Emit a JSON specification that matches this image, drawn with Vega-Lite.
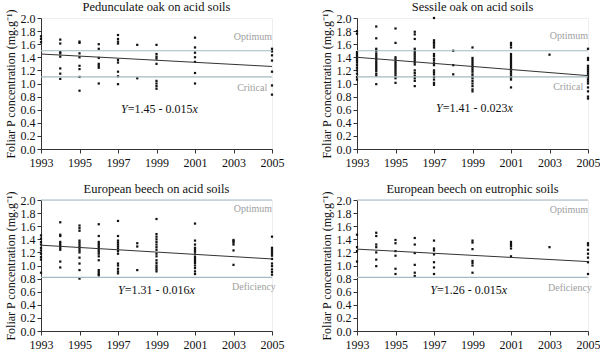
{
  "$schema": "https://vega.github.io/schema/vega-lite/v6.json",
  "padding": {"left": 3, "top": 0, "right": 2, "bottom": 2},
  "background": "white",
  "config": {
    "font": "Liberation Serif",
    "view": {"stroke": "#eeeeee"},
    "axis": {"labelFont": "Liberation Serif", "titleFont": "Liberation Serif", "labelFontSize": 12, "titleFontSize": 12,
             "titleFontWeight": "normal", "grid": false, "tickSize": 4, "labelOverlap": false, "labelFlush": false,
             "labelColor": "#111", "titleColor": "#111", "domainColor": "#333", "tickColor": "#333"},
    "axisX": {"labelPadding": 4},
    "axisY": {"labelPadding": 2, "titlePadding": 3}
  },
  "data": {"values": [
    {"panel": "Pedunculate oak on acid soils", "type": "pt", "year": 1993, "p": 1.72},
    {"panel": "Pedunculate oak on acid soils", "type": "pt", "year": 1993, "p": 1.68},
    {"panel": "Pedunculate oak on acid soils", "type": "pt", "year": 1993, "p": 1.63},
    {"panel": "Pedunculate oak on acid soils", "type": "pt", "year": 1994, "p": 1.67},
    {"panel": "Pedunculate oak on acid soils", "type": "pt", "year": 1994, "p": 1.61},
    {"panel": "Pedunculate oak on acid soils", "type": "pt", "year": 1994, "p": 1.48},
    {"panel": "Pedunculate oak on acid soils", "type": "pt", "year": 1994, "p": 1.46},
    {"panel": "Pedunculate oak on acid soils", "type": "pt", "year": 1994, "p": 1.41},
    {"panel": "Pedunculate oak on acid soils", "type": "pt", "year": 1994, "p": 1.23},
    {"panel": "Pedunculate oak on acid soils", "type": "pt", "year": 1994, "p": 1.15},
    {"panel": "Pedunculate oak on acid soils", "type": "pt", "year": 1994, "p": 1.07},
    {"panel": "Pedunculate oak on acid soils", "type": "pt", "year": 1995, "p": 1.64},
    {"panel": "Pedunculate oak on acid soils", "type": "pt", "year": 1995, "p": 1.62},
    {"panel": "Pedunculate oak on acid soils", "type": "pt", "year": 1995, "p": 1.46},
    {"panel": "Pedunculate oak on acid soils", "type": "pt", "year": 1995, "p": 1.40},
    {"panel": "Pedunculate oak on acid soils", "type": "pt", "year": 1995, "p": 1.27},
    {"panel": "Pedunculate oak on acid soils", "type": "pt", "year": 1995, "p": 1.22},
    {"panel": "Pedunculate oak on acid soils", "type": "pt", "year": 1995, "p": 1.10},
    {"panel": "Pedunculate oak on acid soils", "type": "pt", "year": 1995, "p": 0.89},
    {"panel": "Pedunculate oak on acid soils", "type": "pt", "year": 1996, "p": 1.60},
    {"panel": "Pedunculate oak on acid soils", "type": "pt", "year": 1996, "p": 1.53},
    {"panel": "Pedunculate oak on acid soils", "type": "pt", "year": 1996, "p": 1.39},
    {"panel": "Pedunculate oak on acid soils", "type": "pt", "year": 1996, "p": 1.30},
    {"panel": "Pedunculate oak on acid soils", "type": "pt", "year": 1996, "p": 1.27},
    {"panel": "Pedunculate oak on acid soils", "type": "pt", "year": 1996, "p": 1.24},
    {"panel": "Pedunculate oak on acid soils", "type": "pt", "year": 1996, "p": 1.00},
    {"panel": "Pedunculate oak on acid soils", "type": "pt", "year": 1997, "p": 1.74},
    {"panel": "Pedunculate oak on acid soils", "type": "pt", "year": 1997, "p": 1.68},
    {"panel": "Pedunculate oak on acid soils", "type": "pt", "year": 1997, "p": 1.64},
    {"panel": "Pedunculate oak on acid soils", "type": "pt", "year": 1997, "p": 1.61},
    {"panel": "Pedunculate oak on acid soils", "type": "pt", "year": 1997, "p": 1.36},
    {"panel": "Pedunculate oak on acid soils", "type": "pt", "year": 1997, "p": 1.32},
    {"panel": "Pedunculate oak on acid soils", "type": "pt", "year": 1997, "p": 1.18},
    {"panel": "Pedunculate oak on acid soils", "type": "pt", "year": 1997, "p": 1.11},
    {"panel": "Pedunculate oak on acid soils", "type": "pt", "year": 1997, "p": 0.99},
    {"panel": "Pedunculate oak on acid soils", "type": "pt", "year": 1998, "p": 1.59},
    {"panel": "Pedunculate oak on acid soils", "type": "pt", "year": 1998, "p": 1.08},
    {"panel": "Pedunculate oak on acid soils", "type": "pt", "year": 1999, "p": 1.59},
    {"panel": "Pedunculate oak on acid soils", "type": "pt", "year": 1999, "p": 1.45},
    {"panel": "Pedunculate oak on acid soils", "type": "pt", "year": 1999, "p": 1.41},
    {"panel": "Pedunculate oak on acid soils", "type": "pt", "year": 1999, "p": 1.38},
    {"panel": "Pedunculate oak on acid soils", "type": "pt", "year": 1999, "p": 1.30},
    {"panel": "Pedunculate oak on acid soils", "type": "pt", "year": 1999, "p": 1.04},
    {"panel": "Pedunculate oak on acid soils", "type": "pt", "year": 1999, "p": 1.00},
    {"panel": "Pedunculate oak on acid soils", "type": "pt", "year": 1999, "p": 0.96},
    {"panel": "Pedunculate oak on acid soils", "type": "pt", "year": 1999, "p": 0.92},
    {"panel": "Pedunculate oak on acid soils", "type": "pt", "year": 2001, "p": 1.70},
    {"panel": "Pedunculate oak on acid soils", "type": "pt", "year": 2001, "p": 1.55},
    {"panel": "Pedunculate oak on acid soils", "type": "pt", "year": 2001, "p": 1.47},
    {"panel": "Pedunculate oak on acid soils", "type": "pt", "year": 2001, "p": 1.40},
    {"panel": "Pedunculate oak on acid soils", "type": "pt", "year": 2001, "p": 1.33},
    {"panel": "Pedunculate oak on acid soils", "type": "pt", "year": 2001, "p": 1.16},
    {"panel": "Pedunculate oak on acid soils", "type": "pt", "year": 2001, "p": 1.00},
    {"panel": "Pedunculate oak on acid soils", "type": "pt", "year": 2005, "p": 1.53},
    {"panel": "Pedunculate oak on acid soils", "type": "pt", "year": 2005, "p": 1.49},
    {"panel": "Pedunculate oak on acid soils", "type": "pt", "year": 2005, "p": 1.43},
    {"panel": "Pedunculate oak on acid soils", "type": "pt", "year": 2005, "p": 1.35},
    {"panel": "Pedunculate oak on acid soils", "type": "pt", "year": 2005, "p": 1.18},
    {"panel": "Pedunculate oak on acid soils", "type": "pt", "year": 2005, "p": 0.97},
    {"panel": "Pedunculate oak on acid soils", "type": "pt", "year": 2005, "p": 0.83},

    {"panel": "Sessile oak on acid soils", "type": "pt", "year": 1993, "p": 1.80},
    {"panel": "Sessile oak on acid soils", "type": "pt", "year": 1993, "p": 1.76},
    {"panel": "Sessile oak on acid soils", "type": "pt", "year": 1993, "p": 1.48},
    {"panel": "Sessile oak on acid soils", "type": "pt", "year": 1993, "p": 1.45},
    {"panel": "Sessile oak on acid soils", "type": "pt", "year": 1993, "p": 1.42},
    {"panel": "Sessile oak on acid soils", "type": "pt", "year": 1993, "p": 1.38},
    {"panel": "Sessile oak on acid soils", "type": "pt", "year": 1993, "p": 1.35},
    {"panel": "Sessile oak on acid soils", "type": "pt", "year": 1993, "p": 1.32},
    {"panel": "Sessile oak on acid soils", "type": "pt", "year": 1993, "p": 1.28},
    {"panel": "Sessile oak on acid soils", "type": "pt", "year": 1993, "p": 1.24},
    {"panel": "Sessile oak on acid soils", "type": "pt", "year": 1993, "p": 1.20},
    {"panel": "Sessile oak on acid soils", "type": "pt", "year": 1993, "p": 1.15},
    {"panel": "Sessile oak on acid soils", "type": "pt", "year": 1993, "p": 1.10},
    {"panel": "Sessile oak on acid soils", "type": "pt", "year": 1993, "p": 1.06},
    {"panel": "Sessile oak on acid soils", "type": "pt", "year": 1994, "p": 1.87},
    {"panel": "Sessile oak on acid soils", "type": "pt", "year": 1994, "p": 1.69},
    {"panel": "Sessile oak on acid soils", "type": "pt", "year": 1994, "p": 1.53},
    {"panel": "Sessile oak on acid soils", "type": "pt", "year": 1994, "p": 1.50},
    {"panel": "Sessile oak on acid soils", "type": "pt", "year": 1994, "p": 1.46},
    {"panel": "Sessile oak on acid soils", "type": "pt", "year": 1994, "p": 1.43},
    {"panel": "Sessile oak on acid soils", "type": "pt", "year": 1994, "p": 1.40},
    {"panel": "Sessile oak on acid soils", "type": "pt", "year": 1994, "p": 1.37},
    {"panel": "Sessile oak on acid soils", "type": "pt", "year": 1994, "p": 1.34},
    {"panel": "Sessile oak on acid soils", "type": "pt", "year": 1994, "p": 1.31},
    {"panel": "Sessile oak on acid soils", "type": "pt", "year": 1994, "p": 1.28},
    {"panel": "Sessile oak on acid soils", "type": "pt", "year": 1994, "p": 1.25},
    {"panel": "Sessile oak on acid soils", "type": "pt", "year": 1994, "p": 1.22},
    {"panel": "Sessile oak on acid soils", "type": "pt", "year": 1994, "p": 1.19},
    {"panel": "Sessile oak on acid soils", "type": "pt", "year": 1994, "p": 1.15},
    {"panel": "Sessile oak on acid soils", "type": "pt", "year": 1994, "p": 1.12},
    {"panel": "Sessile oak on acid soils", "type": "pt", "year": 1994, "p": 0.99},
    {"panel": "Sessile oak on acid soils", "type": "pt", "year": 1995, "p": 1.84},
    {"panel": "Sessile oak on acid soils", "type": "pt", "year": 1995, "p": 1.62},
    {"panel": "Sessile oak on acid soils", "type": "pt", "year": 1995, "p": 1.40},
    {"panel": "Sessile oak on acid soils", "type": "pt", "year": 1995, "p": 1.37},
    {"panel": "Sessile oak on acid soils", "type": "pt", "year": 1995, "p": 1.33},
    {"panel": "Sessile oak on acid soils", "type": "pt", "year": 1995, "p": 1.30},
    {"panel": "Sessile oak on acid soils", "type": "pt", "year": 1995, "p": 1.27},
    {"panel": "Sessile oak on acid soils", "type": "pt", "year": 1995, "p": 1.24},
    {"panel": "Sessile oak on acid soils", "type": "pt", "year": 1995, "p": 1.21},
    {"panel": "Sessile oak on acid soils", "type": "pt", "year": 1995, "p": 1.18},
    {"panel": "Sessile oak on acid soils", "type": "pt", "year": 1995, "p": 1.15},
    {"panel": "Sessile oak on acid soils", "type": "pt", "year": 1995, "p": 1.12},
    {"panel": "Sessile oak on acid soils", "type": "pt", "year": 1995, "p": 1.08},
    {"panel": "Sessile oak on acid soils", "type": "pt", "year": 1995, "p": 1.01},
    {"panel": "Sessile oak on acid soils", "type": "pt", "year": 1996, "p": 1.79},
    {"panel": "Sessile oak on acid soils", "type": "pt", "year": 1996, "p": 1.75},
    {"panel": "Sessile oak on acid soils", "type": "pt", "year": 1996, "p": 1.68},
    {"panel": "Sessile oak on acid soils", "type": "pt", "year": 1996, "p": 1.53},
    {"panel": "Sessile oak on acid soils", "type": "pt", "year": 1996, "p": 1.50},
    {"panel": "Sessile oak on acid soils", "type": "pt", "year": 1996, "p": 1.47},
    {"panel": "Sessile oak on acid soils", "type": "pt", "year": 1996, "p": 1.44},
    {"panel": "Sessile oak on acid soils", "type": "pt", "year": 1996, "p": 1.41},
    {"panel": "Sessile oak on acid soils", "type": "pt", "year": 1996, "p": 1.38},
    {"panel": "Sessile oak on acid soils", "type": "pt", "year": 1996, "p": 1.35},
    {"panel": "Sessile oak on acid soils", "type": "pt", "year": 1996, "p": 1.32},
    {"panel": "Sessile oak on acid soils", "type": "pt", "year": 1996, "p": 1.29},
    {"panel": "Sessile oak on acid soils", "type": "pt", "year": 1996, "p": 1.20},
    {"panel": "Sessile oak on acid soils", "type": "pt", "year": 1996, "p": 1.16},
    {"panel": "Sessile oak on acid soils", "type": "pt", "year": 1996, "p": 1.12},
    {"panel": "Sessile oak on acid soils", "type": "pt", "year": 1996, "p": 1.08},
    {"panel": "Sessile oak on acid soils", "type": "pt", "year": 1996, "p": 1.04},
    {"panel": "Sessile oak on acid soils", "type": "pt", "year": 1996, "p": 0.96},
    {"panel": "Sessile oak on acid soils", "type": "pt", "year": 1997, "p": 2.00},
    {"panel": "Sessile oak on acid soils", "type": "pt", "year": 1997, "p": 1.66},
    {"panel": "Sessile oak on acid soils", "type": "pt", "year": 1997, "p": 1.63},
    {"panel": "Sessile oak on acid soils", "type": "pt", "year": 1997, "p": 1.61},
    {"panel": "Sessile oak on acid soils", "type": "pt", "year": 1997, "p": 1.58},
    {"panel": "Sessile oak on acid soils", "type": "pt", "year": 1997, "p": 1.55},
    {"panel": "Sessile oak on acid soils", "type": "pt", "year": 1997, "p": 1.45},
    {"panel": "Sessile oak on acid soils", "type": "pt", "year": 1997, "p": 1.42},
    {"panel": "Sessile oak on acid soils", "type": "pt", "year": 1997, "p": 1.38},
    {"panel": "Sessile oak on acid soils", "type": "pt", "year": 1997, "p": 1.35},
    {"panel": "Sessile oak on acid soils", "type": "pt", "year": 1997, "p": 1.31},
    {"panel": "Sessile oak on acid soils", "type": "pt", "year": 1997, "p": 1.28},
    {"panel": "Sessile oak on acid soils", "type": "pt", "year": 1997, "p": 1.20},
    {"panel": "Sessile oak on acid soils", "type": "pt", "year": 1997, "p": 1.17},
    {"panel": "Sessile oak on acid soils", "type": "pt", "year": 1997, "p": 1.14},
    {"panel": "Sessile oak on acid soils", "type": "pt", "year": 1997, "p": 1.10},
    {"panel": "Sessile oak on acid soils", "type": "pt", "year": 1997, "p": 1.06},
    {"panel": "Sessile oak on acid soils", "type": "pt", "year": 1997, "p": 1.01},
    {"panel": "Sessile oak on acid soils", "type": "pt", "year": 1997, "p": 0.98},
    {"panel": "Sessile oak on acid soils", "type": "pt", "year": 1998, "p": 1.50},
    {"panel": "Sessile oak on acid soils", "type": "pt", "year": 1998, "p": 1.28},
    {"panel": "Sessile oak on acid soils", "type": "pt", "year": 1998, "p": 1.14},
    {"panel": "Sessile oak on acid soils", "type": "pt", "year": 1999, "p": 1.55},
    {"panel": "Sessile oak on acid soils", "type": "pt", "year": 1999, "p": 1.39},
    {"panel": "Sessile oak on acid soils", "type": "pt", "year": 1999, "p": 1.36},
    {"panel": "Sessile oak on acid soils", "type": "pt", "year": 1999, "p": 1.33},
    {"panel": "Sessile oak on acid soils", "type": "pt", "year": 1999, "p": 1.30},
    {"panel": "Sessile oak on acid soils", "type": "pt", "year": 1999, "p": 1.27},
    {"panel": "Sessile oak on acid soils", "type": "pt", "year": 1999, "p": 1.24},
    {"panel": "Sessile oak on acid soils", "type": "pt", "year": 1999, "p": 1.21},
    {"panel": "Sessile oak on acid soils", "type": "pt", "year": 1999, "p": 1.18},
    {"panel": "Sessile oak on acid soils", "type": "pt", "year": 1999, "p": 1.14},
    {"panel": "Sessile oak on acid soils", "type": "pt", "year": 1999, "p": 1.11},
    {"panel": "Sessile oak on acid soils", "type": "pt", "year": 1999, "p": 1.08},
    {"panel": "Sessile oak on acid soils", "type": "pt", "year": 1999, "p": 1.04},
    {"panel": "Sessile oak on acid soils", "type": "pt", "year": 1999, "p": 1.00},
    {"panel": "Sessile oak on acid soils", "type": "pt", "year": 1999, "p": 0.96},
    {"panel": "Sessile oak on acid soils", "type": "pt", "year": 1999, "p": 0.91},
    {"panel": "Sessile oak on acid soils", "type": "pt", "year": 1999, "p": 0.88},
    {"panel": "Sessile oak on acid soils", "type": "pt", "year": 2001, "p": 1.62},
    {"panel": "Sessile oak on acid soils", "type": "pt", "year": 2001, "p": 1.59},
    {"panel": "Sessile oak on acid soils", "type": "pt", "year": 2001, "p": 1.55},
    {"panel": "Sessile oak on acid soils", "type": "pt", "year": 2001, "p": 1.45},
    {"panel": "Sessile oak on acid soils", "type": "pt", "year": 2001, "p": 1.42},
    {"panel": "Sessile oak on acid soils", "type": "pt", "year": 2001, "p": 1.39},
    {"panel": "Sessile oak on acid soils", "type": "pt", "year": 2001, "p": 1.36},
    {"panel": "Sessile oak on acid soils", "type": "pt", "year": 2001, "p": 1.33},
    {"panel": "Sessile oak on acid soils", "type": "pt", "year": 2001, "p": 1.30},
    {"panel": "Sessile oak on acid soils", "type": "pt", "year": 2001, "p": 1.27},
    {"panel": "Sessile oak on acid soils", "type": "pt", "year": 2001, "p": 1.24},
    {"panel": "Sessile oak on acid soils", "type": "pt", "year": 2001, "p": 1.21},
    {"panel": "Sessile oak on acid soils", "type": "pt", "year": 2001, "p": 1.18},
    {"panel": "Sessile oak on acid soils", "type": "pt", "year": 2001, "p": 1.15},
    {"panel": "Sessile oak on acid soils", "type": "pt", "year": 2001, "p": 1.12},
    {"panel": "Sessile oak on acid soils", "type": "pt", "year": 2001, "p": 1.09},
    {"panel": "Sessile oak on acid soils", "type": "pt", "year": 2001, "p": 1.06},
    {"panel": "Sessile oak on acid soils", "type": "pt", "year": 2001, "p": 0.94},
    {"panel": "Sessile oak on acid soils", "type": "pt", "year": 2003, "p": 1.44},
    {"panel": "Sessile oak on acid soils", "type": "pt", "year": 2005, "p": 1.53},
    {"panel": "Sessile oak on acid soils", "type": "pt", "year": 2005, "p": 1.39},
    {"panel": "Sessile oak on acid soils", "type": "pt", "year": 2005, "p": 1.36},
    {"panel": "Sessile oak on acid soils", "type": "pt", "year": 2005, "p": 1.27},
    {"panel": "Sessile oak on acid soils", "type": "pt", "year": 2005, "p": 1.24},
    {"panel": "Sessile oak on acid soils", "type": "pt", "year": 2005, "p": 1.21},
    {"panel": "Sessile oak on acid soils", "type": "pt", "year": 2005, "p": 1.18},
    {"panel": "Sessile oak on acid soils", "type": "pt", "year": 2005, "p": 1.15},
    {"panel": "Sessile oak on acid soils", "type": "pt", "year": 2005, "p": 1.12},
    {"panel": "Sessile oak on acid soils", "type": "pt", "year": 2005, "p": 1.09},
    {"panel": "Sessile oak on acid soils", "type": "pt", "year": 2005, "p": 1.06},
    {"panel": "Sessile oak on acid soils", "type": "pt", "year": 2005, "p": 1.03},
    {"panel": "Sessile oak on acid soils", "type": "pt", "year": 2005, "p": 1.00},
    {"panel": "Sessile oak on acid soils", "type": "pt", "year": 2005, "p": 0.94},
    {"panel": "Sessile oak on acid soils", "type": "pt", "year": 2005, "p": 0.88},
    {"panel": "Sessile oak on acid soils", "type": "pt", "year": 2005, "p": 0.80},
    {"panel": "Sessile oak on acid soils", "type": "pt", "year": 2005, "p": 0.77},

    {"panel": "European beech on acid soils", "type": "pt", "year": 1993, "p": 1.46},
    {"panel": "European beech on acid soils", "type": "pt", "year": 1993, "p": 1.41},
    {"panel": "European beech on acid soils", "type": "pt", "year": 1993, "p": 1.36},
    {"panel": "European beech on acid soils", "type": "pt", "year": 1993, "p": 1.32},
    {"panel": "European beech on acid soils", "type": "pt", "year": 1993, "p": 1.27},
    {"panel": "European beech on acid soils", "type": "pt", "year": 1993, "p": 1.23},
    {"panel": "European beech on acid soils", "type": "pt", "year": 1993, "p": 1.18},
    {"panel": "European beech on acid soils", "type": "pt", "year": 1993, "p": 1.13},
    {"panel": "European beech on acid soils", "type": "pt", "year": 1993, "p": 1.09},
    {"panel": "European beech on acid soils", "type": "pt", "year": 1993, "p": 0.89},
    {"panel": "European beech on acid soils", "type": "pt", "year": 1994, "p": 1.66},
    {"panel": "European beech on acid soils", "type": "pt", "year": 1994, "p": 1.47},
    {"panel": "European beech on acid soils", "type": "pt", "year": 1994, "p": 1.45},
    {"panel": "European beech on acid soils", "type": "pt", "year": 1994, "p": 1.36},
    {"panel": "European beech on acid soils", "type": "pt", "year": 1994, "p": 1.33},
    {"panel": "European beech on acid soils", "type": "pt", "year": 1994, "p": 1.30},
    {"panel": "European beech on acid soils", "type": "pt", "year": 1994, "p": 1.27},
    {"panel": "European beech on acid soils", "type": "pt", "year": 1994, "p": 1.24},
    {"panel": "European beech on acid soils", "type": "pt", "year": 1994, "p": 1.06},
    {"panel": "European beech on acid soils", "type": "pt", "year": 1994, "p": 0.97},
    {"panel": "European beech on acid soils", "type": "pt", "year": 1995, "p": 1.61},
    {"panel": "European beech on acid soils", "type": "pt", "year": 1995, "p": 1.57},
    {"panel": "European beech on acid soils", "type": "pt", "year": 1995, "p": 1.53},
    {"panel": "European beech on acid soils", "type": "pt", "year": 1995, "p": 1.38},
    {"panel": "European beech on acid soils", "type": "pt", "year": 1995, "p": 1.35},
    {"panel": "European beech on acid soils", "type": "pt", "year": 1995, "p": 1.32},
    {"panel": "European beech on acid soils", "type": "pt", "year": 1995, "p": 1.29},
    {"panel": "European beech on acid soils", "type": "pt", "year": 1995, "p": 1.26},
    {"panel": "European beech on acid soils", "type": "pt", "year": 1995, "p": 1.23},
    {"panel": "European beech on acid soils", "type": "pt", "year": 1995, "p": 1.20},
    {"panel": "European beech on acid soils", "type": "pt", "year": 1995, "p": 1.12},
    {"panel": "European beech on acid soils", "type": "pt", "year": 1995, "p": 1.03},
    {"panel": "European beech on acid soils", "type": "pt", "year": 1995, "p": 0.93},
    {"panel": "European beech on acid soils", "type": "pt", "year": 1995, "p": 0.80},
    {"panel": "European beech on acid soils", "type": "pt", "year": 1996, "p": 1.63},
    {"panel": "European beech on acid soils", "type": "pt", "year": 1996, "p": 1.45},
    {"panel": "European beech on acid soils", "type": "pt", "year": 1996, "p": 1.36},
    {"panel": "European beech on acid soils", "type": "pt", "year": 1996, "p": 1.33},
    {"panel": "European beech on acid soils", "type": "pt", "year": 1996, "p": 1.30},
    {"panel": "European beech on acid soils", "type": "pt", "year": 1996, "p": 1.27},
    {"panel": "European beech on acid soils", "type": "pt", "year": 1996, "p": 1.24},
    {"panel": "European beech on acid soils", "type": "pt", "year": 1996, "p": 1.21},
    {"panel": "European beech on acid soils", "type": "pt", "year": 1996, "p": 1.18},
    {"panel": "European beech on acid soils", "type": "pt", "year": 1996, "p": 1.14},
    {"panel": "European beech on acid soils", "type": "pt", "year": 1996, "p": 1.08},
    {"panel": "European beech on acid soils", "type": "pt", "year": 1996, "p": 0.93},
    {"panel": "European beech on acid soils", "type": "pt", "year": 1996, "p": 0.90},
    {"panel": "European beech on acid soils", "type": "pt", "year": 1996, "p": 0.87},
    {"panel": "European beech on acid soils", "type": "pt", "year": 1996, "p": 0.85},
    {"panel": "European beech on acid soils", "type": "pt", "year": 1997, "p": 1.68},
    {"panel": "European beech on acid soils", "type": "pt", "year": 1997, "p": 1.45},
    {"panel": "European beech on acid soils", "type": "pt", "year": 1997, "p": 1.38},
    {"panel": "European beech on acid soils", "type": "pt", "year": 1997, "p": 1.35},
    {"panel": "European beech on acid soils", "type": "pt", "year": 1997, "p": 1.32},
    {"panel": "European beech on acid soils", "type": "pt", "year": 1997, "p": 1.29},
    {"panel": "European beech on acid soils", "type": "pt", "year": 1997, "p": 1.26},
    {"panel": "European beech on acid soils", "type": "pt", "year": 1997, "p": 1.22},
    {"panel": "European beech on acid soils", "type": "pt", "year": 1997, "p": 1.18},
    {"panel": "European beech on acid soils", "type": "pt", "year": 1997, "p": 1.03},
    {"panel": "European beech on acid soils", "type": "pt", "year": 1997, "p": 1.00},
    {"panel": "European beech on acid soils", "type": "pt", "year": 1997, "p": 0.95},
    {"panel": "European beech on acid soils", "type": "pt", "year": 1997, "p": 0.91},
    {"panel": "European beech on acid soils", "type": "pt", "year": 1997, "p": 0.88},
    {"panel": "European beech on acid soils", "type": "pt", "year": 1998, "p": 1.34},
    {"panel": "European beech on acid soils", "type": "pt", "year": 1998, "p": 1.29},
    {"panel": "European beech on acid soils", "type": "pt", "year": 1998, "p": 0.93},
    {"panel": "European beech on acid soils", "type": "pt", "year": 1999, "p": 1.71},
    {"panel": "European beech on acid soils", "type": "pt", "year": 1999, "p": 1.48},
    {"panel": "European beech on acid soils", "type": "pt", "year": 1999, "p": 1.44},
    {"panel": "European beech on acid soils", "type": "pt", "year": 1999, "p": 1.40},
    {"panel": "European beech on acid soils", "type": "pt", "year": 1999, "p": 1.36},
    {"panel": "European beech on acid soils", "type": "pt", "year": 1999, "p": 1.32},
    {"panel": "European beech on acid soils", "type": "pt", "year": 1999, "p": 1.28},
    {"panel": "European beech on acid soils", "type": "pt", "year": 1999, "p": 1.24},
    {"panel": "European beech on acid soils", "type": "pt", "year": 1999, "p": 1.18},
    {"panel": "European beech on acid soils", "type": "pt", "year": 1999, "p": 1.14},
    {"panel": "European beech on acid soils", "type": "pt", "year": 1999, "p": 1.08},
    {"panel": "European beech on acid soils", "type": "pt", "year": 1999, "p": 1.04},
    {"panel": "European beech on acid soils", "type": "pt", "year": 1999, "p": 1.00},
    {"panel": "European beech on acid soils", "type": "pt", "year": 1999, "p": 0.97},
    {"panel": "European beech on acid soils", "type": "pt", "year": 1999, "p": 0.94},
    {"panel": "European beech on acid soils", "type": "pt", "year": 1999, "p": 0.91},
    {"panel": "European beech on acid soils", "type": "pt", "year": 2001, "p": 1.64},
    {"panel": "European beech on acid soils", "type": "pt", "year": 2001, "p": 1.38},
    {"panel": "European beech on acid soils", "type": "pt", "year": 2001, "p": 1.32},
    {"panel": "European beech on acid soils", "type": "pt", "year": 2001, "p": 1.27},
    {"panel": "European beech on acid soils", "type": "pt", "year": 2001, "p": 1.24},
    {"panel": "European beech on acid soils", "type": "pt", "year": 2001, "p": 1.21},
    {"panel": "European beech on acid soils", "type": "pt", "year": 2001, "p": 1.17},
    {"panel": "European beech on acid soils", "type": "pt", "year": 2001, "p": 1.13},
    {"panel": "European beech on acid soils", "type": "pt", "year": 2001, "p": 1.10},
    {"panel": "European beech on acid soils", "type": "pt", "year": 2001, "p": 1.07},
    {"panel": "European beech on acid soils", "type": "pt", "year": 2001, "p": 1.04},
    {"panel": "European beech on acid soils", "type": "pt", "year": 2001, "p": 1.00},
    {"panel": "European beech on acid soils", "type": "pt", "year": 2001, "p": 0.96},
    {"panel": "European beech on acid soils", "type": "pt", "year": 2001, "p": 0.91},
    {"panel": "European beech on acid soils", "type": "pt", "year": 2001, "p": 0.87},
    {"panel": "European beech on acid soils", "type": "pt", "year": 2003, "p": 1.39},
    {"panel": "European beech on acid soils", "type": "pt", "year": 2003, "p": 1.37},
    {"panel": "European beech on acid soils", "type": "pt", "year": 2003, "p": 1.35},
    {"panel": "European beech on acid soils", "type": "pt", "year": 2003, "p": 1.32},
    {"panel": "European beech on acid soils", "type": "pt", "year": 2003, "p": 1.23},
    {"panel": "European beech on acid soils", "type": "pt", "year": 2003, "p": 1.01},
    {"panel": "European beech on acid soils", "type": "pt", "year": 2005, "p": 1.44},
    {"panel": "European beech on acid soils", "type": "pt", "year": 2005, "p": 1.27},
    {"panel": "European beech on acid soils", "type": "pt", "year": 2005, "p": 1.24},
    {"panel": "European beech on acid soils", "type": "pt", "year": 2005, "p": 1.21},
    {"panel": "European beech on acid soils", "type": "pt", "year": 2005, "p": 1.18},
    {"panel": "European beech on acid soils", "type": "pt", "year": 2005, "p": 1.15},
    {"panel": "European beech on acid soils", "type": "pt", "year": 2005, "p": 1.10},
    {"panel": "European beech on acid soils", "type": "pt", "year": 2005, "p": 1.03},
    {"panel": "European beech on acid soils", "type": "pt", "year": 2005, "p": 0.99},
    {"panel": "European beech on acid soils", "type": "pt", "year": 2005, "p": 0.94},
    {"panel": "European beech on acid soils", "type": "pt", "year": 2005, "p": 0.90},
    {"panel": "European beech on acid soils", "type": "pt", "year": 2005, "p": 0.86},

    {"panel": "European beech on eutrophic soils", "type": "pt", "year": 1993, "p": 1.47},
    {"panel": "European beech on eutrophic soils", "type": "pt", "year": 1993, "p": 1.28},
    {"panel": "European beech on eutrophic soils", "type": "pt", "year": 1993, "p": 1.22},
    {"panel": "European beech on eutrophic soils", "type": "pt", "year": 1993, "p": 1.06},
    {"panel": "European beech on eutrophic soils", "type": "pt", "year": 1994, "p": 1.50},
    {"panel": "European beech on eutrophic soils", "type": "pt", "year": 1994, "p": 1.45},
    {"panel": "European beech on eutrophic soils", "type": "pt", "year": 1994, "p": 1.32},
    {"panel": "European beech on eutrophic soils", "type": "pt", "year": 1994, "p": 1.28},
    {"panel": "European beech on eutrophic soils", "type": "pt", "year": 1994, "p": 1.20},
    {"panel": "European beech on eutrophic soils", "type": "pt", "year": 1994, "p": 1.09},
    {"panel": "European beech on eutrophic soils", "type": "pt", "year": 1994, "p": 0.99},
    {"panel": "European beech on eutrophic soils", "type": "pt", "year": 1995, "p": 1.39},
    {"panel": "European beech on eutrophic soils", "type": "pt", "year": 1995, "p": 1.34},
    {"panel": "European beech on eutrophic soils", "type": "pt", "year": 1995, "p": 1.22},
    {"panel": "European beech on eutrophic soils", "type": "pt", "year": 1995, "p": 1.15},
    {"panel": "European beech on eutrophic soils", "type": "pt", "year": 1995, "p": 0.95},
    {"panel": "European beech on eutrophic soils", "type": "pt", "year": 1995, "p": 0.87},
    {"panel": "European beech on eutrophic soils", "type": "pt", "year": 1996, "p": 1.42},
    {"panel": "European beech on eutrophic soils", "type": "pt", "year": 1996, "p": 1.32},
    {"panel": "European beech on eutrophic soils", "type": "pt", "year": 1996, "p": 1.19},
    {"panel": "European beech on eutrophic soils", "type": "pt", "year": 1996, "p": 1.01},
    {"panel": "European beech on eutrophic soils", "type": "pt", "year": 1996, "p": 0.89},
    {"panel": "European beech on eutrophic soils", "type": "pt", "year": 1996, "p": 0.84},
    {"panel": "European beech on eutrophic soils", "type": "pt", "year": 1997, "p": 1.38},
    {"panel": "European beech on eutrophic soils", "type": "pt", "year": 1997, "p": 1.26},
    {"panel": "European beech on eutrophic soils", "type": "pt", "year": 1997, "p": 1.23},
    {"panel": "European beech on eutrophic soils", "type": "pt", "year": 1997, "p": 1.17},
    {"panel": "European beech on eutrophic soils", "type": "pt", "year": 1997, "p": 1.05},
    {"panel": "European beech on eutrophic soils", "type": "pt", "year": 1997, "p": 0.97},
    {"panel": "European beech on eutrophic soils", "type": "pt", "year": 1997, "p": 0.87},
    {"panel": "European beech on eutrophic soils", "type": "pt", "year": 1999, "p": 1.38},
    {"panel": "European beech on eutrophic soils", "type": "pt", "year": 1999, "p": 1.35},
    {"panel": "European beech on eutrophic soils", "type": "pt", "year": 1999, "p": 1.25},
    {"panel": "European beech on eutrophic soils", "type": "pt", "year": 1999, "p": 1.07},
    {"panel": "European beech on eutrophic soils", "type": "pt", "year": 1999, "p": 1.04},
    {"panel": "European beech on eutrophic soils", "type": "pt", "year": 1999, "p": 1.00},
    {"panel": "European beech on eutrophic soils", "type": "pt", "year": 1999, "p": 0.89},
    {"panel": "European beech on eutrophic soils", "type": "pt", "year": 2001, "p": 1.36},
    {"panel": "European beech on eutrophic soils", "type": "pt", "year": 2001, "p": 1.33},
    {"panel": "European beech on eutrophic soils", "type": "pt", "year": 2001, "p": 1.30},
    {"panel": "European beech on eutrophic soils", "type": "pt", "year": 2001, "p": 1.26},
    {"panel": "European beech on eutrophic soils", "type": "pt", "year": 2001, "p": 1.14},
    {"panel": "European beech on eutrophic soils", "type": "pt", "year": 2003, "p": 1.28},
    {"panel": "European beech on eutrophic soils", "type": "pt", "year": 2005, "p": 1.34},
    {"panel": "European beech on eutrophic soils", "type": "pt", "year": 2005, "p": 1.31},
    {"panel": "European beech on eutrophic soils", "type": "pt", "year": 2005, "p": 1.24},
    {"panel": "European beech on eutrophic soils", "type": "pt", "year": 2005, "p": 1.18},
    {"panel": "European beech on eutrophic soils", "type": "pt", "year": 2005, "p": 1.12},
    {"panel": "European beech on eutrophic soils", "type": "pt", "year": 2005, "p": 1.05},
    {"panel": "European beech on eutrophic soils", "type": "pt", "year": 2005, "p": 0.87},

    {"panel": "Pedunculate oak on acid soils", "type": "ref", "p": 1.5, "label": "Optimum", "year": 2005, "ly": 1.71},
    {"panel": "Pedunculate oak on acid soils", "type": "ref", "p": 1.1, "label": "Critical", "year": 2004.75, "ly": 0.93},
    {"panel": "Sessile oak on acid soils", "type": "ref", "p": 1.5, "label": "Optimum", "year": 2005, "ly": 1.72},
    {"panel": "Sessile oak on acid soils", "type": "ref", "p": 1.1, "label": "Critical", "year": 2004.75, "ly": 0.94},
    {"panel": "European beech on acid soils", "type": "ref", "p": 2.0, "label": "Optimum", "year": 2005, "ly": 1.86},
    {"panel": "European beech on acid soils", "type": "ref", "p": 0.82, "label": "Deficiency", "year": 2005.2, "ly": 0.67},
    {"panel": "European beech on eutrophic soils", "type": "ref", "p": 2.0, "label": "Optimum", "year": 2005, "ly": 1.85},
    {"panel": "European beech on eutrophic soils", "type": "ref", "p": 0.82, "label": "Deficiency", "year": 2005.2, "ly": 0.66},

    {"panel": "Pedunculate oak on acid soils", "type": "fit", "year": 1993, "p": 1.45},
    {"panel": "Pedunculate oak on acid soils", "type": "fit", "year": 2005, "p": 1.26},
    {"panel": "Sessile oak on acid soils", "type": "fit", "year": 1993, "p": 1.40},
    {"panel": "Sessile oak on acid soils", "type": "fit", "year": 2005, "p": 1.12},
    {"panel": "European beech on acid soils", "type": "fit", "year": 1993, "p": 1.31},
    {"panel": "European beech on acid soils", "type": "fit", "year": 2005, "p": 1.10},
    {"panel": "European beech on eutrophic soils", "type": "fit", "year": 1993, "p": 1.25},
    {"panel": "European beech on eutrophic soils", "type": "fit", "year": 2005, "p": 1.06},

    {"panel": "Pedunculate oak on acid soils", "type": "eq", "year": 1997.15, "p": 0.61, "mid": "=1.45 - 0.015"},
    {"panel": "Sessile oak on acid soils", "type": "eq", "year": 1997.1, "p": 0.62, "mid": "=1.41 - 0.023"},
    {"panel": "European beech on acid soils", "type": "eq", "year": 1997.0, "p": 0.62, "mid": "=1.31 - 0.016"},
    {"panel": "European beech on eutrophic soils", "type": "eq", "year": 1996.8, "p": 0.62, "mid": "=1.26 - 0.015"}
  ]},
  "facet": {
    "field": "panel",
    "type": "nominal",
    "sort": ["Pedunculate oak on acid soils", "Sessile oak on acid soils", "European beech on acid soils", "European beech on eutrophic soils"],
    "header": {"title": null, "labelFont": "Liberation Serif", "labelFontSize": 12.5, "labelColor": "#111", "labelPadding": -5}
  },
  "columns": 2,
  "spacing": {"row": 13, "column": 34},
  "resolve": {"axis": {"x": "independent", "y": "independent"}},
  "spec": {
    "width": 231,
    "height": 131,
    "encoding": {
      "x": {"field": "year", "type": "quantitative",
            "scale": {"domain": [1993, 2005], "nice": false, "zero": false},
            "axis": {"values": [1993, 1995, 1997, 1999, 2001, 2003, 2005], "format": "d", "title": null}},
      "y": {"field": "p", "type": "quantitative",
            "scale": {"domain": [0, 2], "nice": false},
            "axis": {"values": [0, 0.2, 0.4, 0.6, 0.8, 1.0, 1.2, 1.4, 1.6, 1.8, 2.0], "format": ".1f",
                     "title": "Foliar P concentration (mg.g⁻¹)"}}
    },
    "layer": [
      {
        "transform": [{"filter": "datum.type === 'pt'"}],
        "mark": {"type": "square", "size": 5, "color": "#111", "opacity": 1, "filled": true}
      },
      {
        "transform": [{"filter": "datum.type === 'ref'"}],
        "mark": {"type": "rule", "color": "#a5bac1", "strokeWidth": 1.2},
        "encoding": {"x": null}
      },
      {
        "transform": [{"filter": "datum.type === 'ref'"}],
        "mark": {"type": "text", "align": "right", "baseline": "middle", "fontSize": 10, "color": "#a0a0a0"},
        "encoding": {
          "y": {"field": "ly", "type": "quantitative"},
          "text": {"field": "label"}
        }
      },
      {
        "transform": [{"filter": "datum.type === 'fit'"}],
        "mark": {"type": "line", "color": "#333333", "strokeWidth": 1}
      },
      {
        "transform": [{"filter": "datum.type === 'eq'"}],
        "mark": {"type": "text", "align": "left", "baseline": "middle", "fontSize": 12, "fontStyle": "italic", "color": "#111"},
        "encoding": {"text": {"value": "Y"}}
      },
      {
        "transform": [{"filter": "datum.type === 'eq'"}],
        "mark": {"type": "text", "align": "left", "baseline": "middle", "fontSize": 12, "dx": 6.8, "color": "#111"},
        "encoding": {"text": {"field": "mid"}}
      },
      {
        "transform": [{"filter": "datum.type === 'eq'"}],
        "mark": {"type": "text", "align": "left", "baseline": "middle", "fontSize": 12, "dx": 71.6, "fontStyle": "italic", "color": "#111"},
        "encoding": {"text": {"value": "x"}}
      }
    ]
  }
}
